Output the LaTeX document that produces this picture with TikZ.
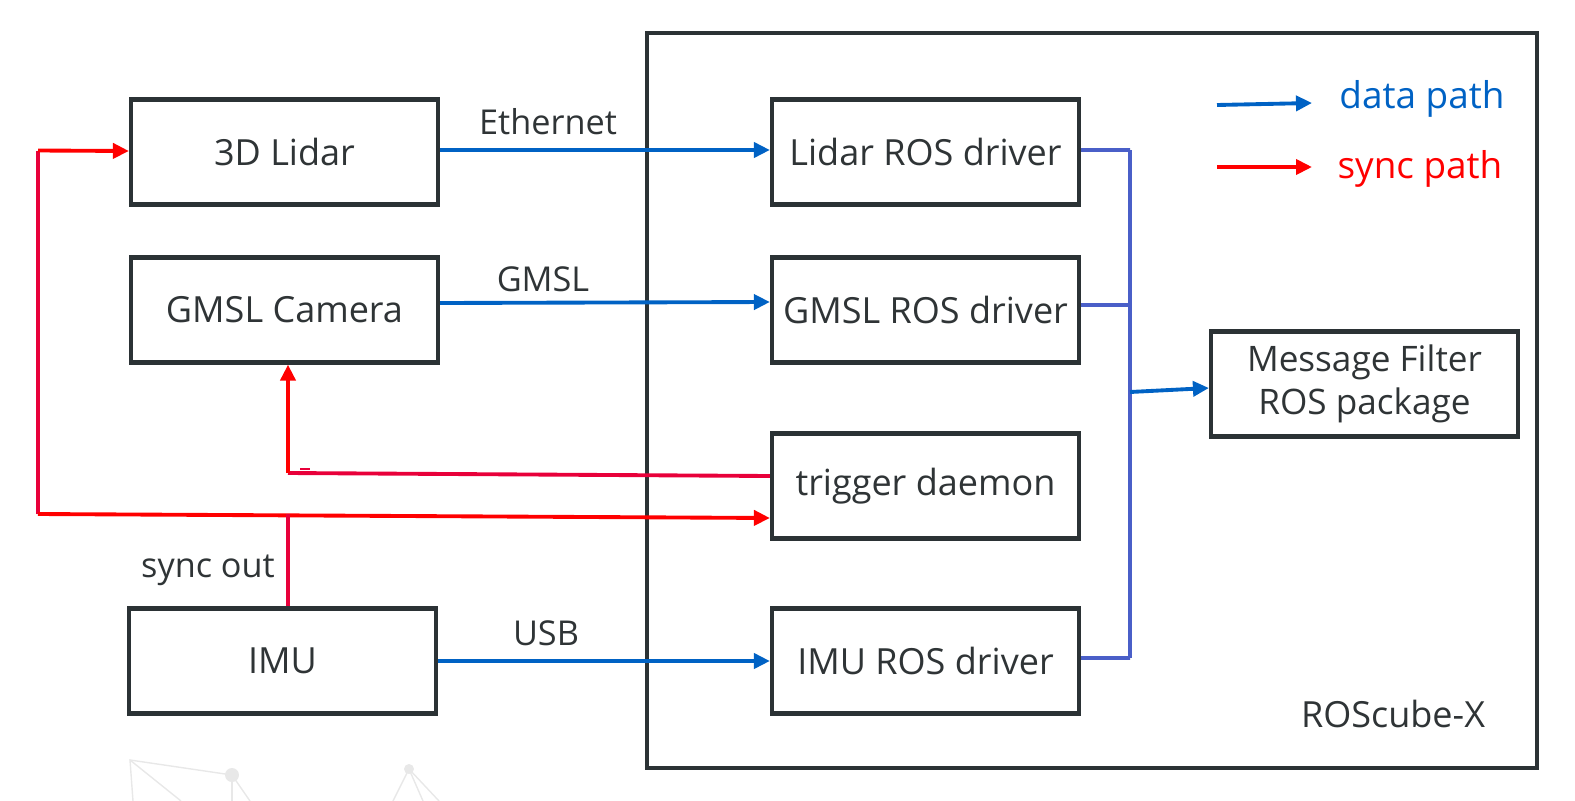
\documentclass[tikz,border=0pt]{standalone}
\usepackage{fontspec}
\setmainfont{Open Sans}
\usetikzlibrary{arrows.meta}
\definecolor{boxgray}{HTML}{2B3235}
\definecolor{txtgray}{HTML}{2F3436}
\definecolor{datablue}{HTML}{0062C4}
\definecolor{busblue}{HTML}{4A5FC8}
\definecolor{syncred}{HTML}{FF0000}
\definecolor{synccrim}{HTML}{E8003A}
\definecolor{faint}{HTML}{E8E8E8}
\tikzset{
  blk/.style={draw=boxgray, line width=2.4pt, minimum width=6.14cm, minimum height=2.1cm,
    inner sep=0pt, text=txtgray, font=\fontsize{20.5}{24}\selectfont},
  lbl/.style={text=txtgray, font=\fontsize{19.5}{23}\selectfont},
  datapath/.style={datablue, line width=2.2pt, -{Triangle[length=0.32cm,width=0.3cm]}},
  busline/.style={busblue, line width=2.2pt},
  syncpath/.style={syncred, line width=2.2pt, -{Triangle[length=0.32cm,width=0.3cm]}},
  syncline/.style={synccrim, line width=2.2pt}
}
\begin{document}
\begin{tikzpicture}[x=0.02cm, y=-0.02cm]
  \useasboundingbox (0,0) rectangle (1575,801);
  % faint background marks
  \begin{scope}[faint, line width=0.8pt]
    \draw (133,801) -- (130,760) -- (232,775) -- (250,801);
    \draw (130,760) -- (181,801);
    \draw (232,775) -- (232,801);
    \fill (232,775) circle (0.14cm);
    \draw (393,801) -- (409,769) -- (439,801);
    \draw (409,769) -- (423,801);
    \fill (409,769) circle (0.1cm);
  \end{scope}
  % ROScube-X frame
  \node[blk, minimum width=17.8cm, minimum height=14.7cm] (cube) at (1092,400.5) {};
  \node[lbl, font=\fontsize{20.5}{24}\selectfont] (cubename) at (1393,714) {ROScube-X};
  % devices
  \node[blk] (lidar) at (284.5,152) {3D Lidar};
  \node[blk] (camera) at (284.5,310) {GMSL Camera};
  \node[blk] (imu) at (282.5,661) {IMU};
  % ROS side
  \node[blk] (lidardrv) at (925.5,152) {Lidar ROS driver};
  \node[blk] (gmsldrv) at (925.5,310) {GMSL ROS driver};
  \node[blk] (trigger) at (925.5,486) {trigger daemon};
  \node[blk] (imudrv) at (925.5,661) {IMU ROS driver};
  \node[blk, align=center, font=\fontsize{20}{24.5}\selectfont] (filter) at (1364.5,384)
    {Message Filter\\ROS package};
  % link labels
  \node[lbl] (eth) at (548,122) {Ethernet};
  \node[lbl] (gmsl) at (543,279) {GMSL};
  \node[lbl] (usb) at (546,633) {USB};
  \node[lbl] (syncout) at (208,570) {sync out};
  % data links
  \draw[datapath] ([yshift=0.04cm]lidar.east) -- ([yshift=0.04cm]lidardrv.west);
  \draw[datapath] ([yshift=0.14cm]camera.east) -- ([yshift=0.16cm]gmsldrv.west);
  \draw[datapath] (imu.east) -- (imudrv.west);
  % bus to message filter
  \coordinate (b1) at (1130,150);
  \coordinate (b2) at (1130,305);
  \coordinate (b3) at (1130,392);
  \coordinate (b4) at (1130,658);
  \draw[busline] ([yshift=0.04cm]lidardrv.east) -- (b1);
  \draw[busline] ([yshift=0.1cm]gmsldrv.east) -- (b2);
  \draw[busline] ([yshift=0.06cm]imudrv.east) -- (b4);
  \draw[busline] (b1) -- (b4);
  \draw[datapath] (b3) -- ([yshift=-0.08cm]filter.west);
  % sync links
  \coordinate (tl) at (38,150.5);
  \coordinate (bl) at (38,514);
  \coordinate (so) at (288,514);
  \coordinate (tc) at (288,473);
  \draw[syncline] (bl) -- (tl);
  \draw[syncpath] (tl) -- ([yshift=0.02cm]lidar.west);
  \draw[syncpath] (bl) -- ([yshift=-0.64cm]trigger.west);
  \draw[syncline] (so) -- (so |- imu.north);
  \draw[syncline] ([yshift=0.2cm]trigger.west) -- (tc);
  \draw[syncpath] (tc) -- (tc |- camera.south);
  \draw[synccrim, line width=0.8pt] (300,469) -- (310,469);
  % legend
  \coordinate (ld1) at (1217,105);
  \coordinate (ld2) at (1312,103);
  \coordinate (ls1) at (1217,167);
  \coordinate (ls2) at (1312,167);
  \draw[datapath] (ld1) -- (ld2);
  \draw[syncpath] (ls1) -- (ls2);
  \node[text=datablue, font=\fontsize{21}{25}\selectfont] (ldtext) at (1422,99) {data path};
  \node[text=syncred, font=\fontsize{21}{25}\selectfont] (lstext) at (1420,169) {sync path};
\end{tikzpicture}
\end{document}
